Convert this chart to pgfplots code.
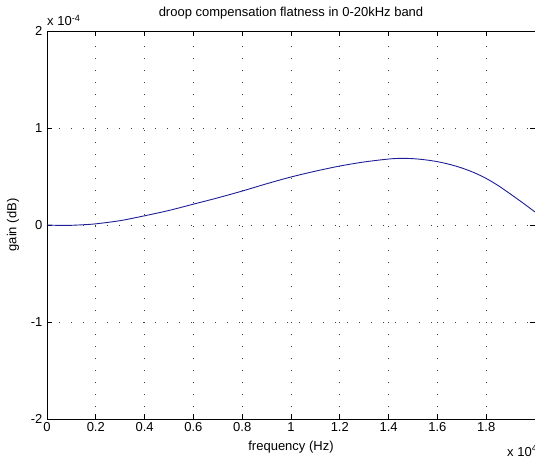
\documentclass[border=0pt]{standalone}
\usepackage{fontspec}
\setmainfont{Liberation Sans}
\usepackage{pgfplots}
\pgfplotsset{compat=1.18}
\definecolor{curve}{RGB}{30,30,150}
\begin{document}
\begin{tikzpicture}[font=\fontsize{13}{15}\selectfont]
\begin{axis}[
  name=ax,
  at={(0,0)}, anchor=south west,
  scale only axis, width=488pt, height=388pt,
  xmin=0, xmax=2, ymin=-2, ymax=2,
  xtick={0,0.2,0.4,0.6,0.8,1,1.2,1.4,1.6,1.8},
  xticklabels={0,0.2,0.4,0.6,0.8,1,1.2,1.4,1.6,1.8},
  ytick={-2,-1,0,1,2},
  yticklabels={-2,-1,0,1,2},
  tick align=inside,
  major tick length=5pt,
  tick style={black, line width=0.8pt},
  axis line style={black, line width=0.9pt},
  grid=major,
  major grid style={black!75, line width=0.8pt, dash pattern=on 0.8pt off 11.2pt},
  xticklabel style={yshift=0pt},
  yticklabel style={xshift=-1pt},
  every tick label/.append style={font=\fontsize{13}{15}\selectfont},
]
\addplot[curve, line width=0.9pt, smooth, tension=0.5] coordinates {
(0,0) (0.05,-0.004) (0.1,-0.003) (0.15,0.003) (0.2,0.012) (0.3,0.045)
(0.4,0.095) (0.5,0.15) (0.6,0.215) (0.7,0.28) (0.8,0.35) (0.9,0.425)
(1.0,0.495) (1.1,0.555) (1.2,0.608) (1.3,0.65) (1.4,0.68) (1.45,0.687)
(1.5,0.684) (1.55,0.672) (1.6,0.653) (1.65,0.625) (1.7,0.588) (1.75,0.540)
(1.8,0.480) (1.85,0.405) (1.9,0.318) (1.95,0.228) (2.0,0.134)
};
\end{axis}
\node[anchor=base] at ([yshift=15pt]ax.north) {droop compensation flatness in 0-20kHz band};
\node[anchor=south west, inner sep=0pt] at ([yshift=5pt]ax.north west) {x 10\textsuperscript{-4}};
\node[anchor=base] at ([yshift=-31pt]ax.south) {frequency (Hz)};
\node[rotate=90, anchor=center] at ([xshift=-34pt]ax.west) {gain (dB)};
\node[anchor=base west, inner sep=0pt] at ([xshift=460pt, yshift=-37pt]ax.south west) {x 10\textsuperscript{4}};
\pgfresetboundingbox
\path[use as bounding box] (-47pt,-39pt) rectangle (488pt,419pt);
\end{tikzpicture}
\end{document}
